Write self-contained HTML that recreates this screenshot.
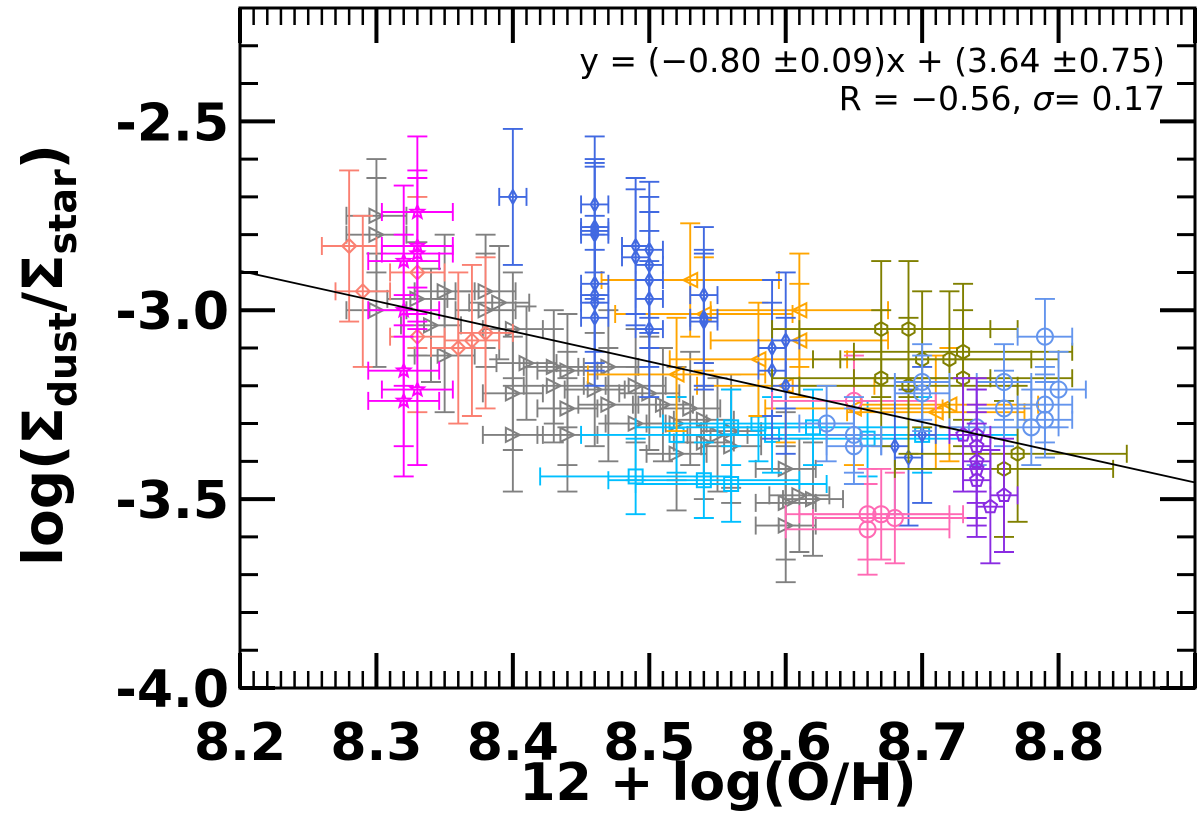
<!DOCTYPE html>
<html><head><meta charset="utf-8"><style>
body{margin:0;background:#fff;}
svg text{font-family:"DejaVu Sans","Liberation Sans",sans-serif;}
</style></head><body>
<svg id="chart" width="1200" height="818" xmlns="http://www.w3.org/2000/svg">
<g id="series"></g>
<g id="axes"></g>
</svg>
<script>
// x, y, xerr, yerr per series (data units)
const salmonX=[8.28,8.29,8.33,8.33,8.36,8.37,8.38];
const salmonY=[-2.83,-2.95,-2.90,-3.07,-3.10,-3.08,-3.06];
const magentaX=[8.32,8.33,8.33,8.33,8.32,8.32,8.33,8.32];
const magentaY=[-2.87,-2.74,-2.83,-2.85,-3.00,-3.16,-3.21,-3.24];
const grayX=[8.30,8.30,8.30,8.33,8.35,8.35,8.34,8.38,8.38,8.39,8.40,8.41,8.43,8.43,8.40,8.40,8.44,8.44,8.44,8.46,8.47,8.47,8.49,8.50,8.49,8.51,8.52,8.53,8.54,8.52,8.54,8.55,8.56,8.56,8.60,8.61,8.60,8.60,8.62];
const grayY=[-2.75,-2.80,-3.00,-2.97,-2.95,-3.12,-3.04,-2.95,-3.00,-2.98,-3.05,-3.14,-3.15,-3.20,-3.22,-3.33,-3.16,-3.26,-3.33,-3.21,-3.25,-3.15,-3.20,-3.22,-3.30,-3.25,-3.30,-3.26,-3.35,-3.38,-3.29,-3.33,-3.32,-3.36,-3.42,-3.49,-3.51,-3.57,-3.50];
const blueX=[8.40,8.46,8.46,8.46,8.46,8.46,8.46,8.46,8.46,8.49,8.49,8.50,8.50,8.50,8.50,8.50,8.54,8.54,8.54,8.59,8.59,8.60,8.60,8.68,8.69,8.70];
const blueY=[-2.70,-2.72,-2.78,-2.79,-2.80,-2.93,-2.96,-2.98,-3.02,-2.83,-2.86,-2.84,-2.88,-2.92,-2.97,-3.05,-2.96,-3.02,-3.03,-3.10,-3.16,-3.08,-3.20,-3.36,-3.39,-3.33];
const orangeX=[8.53,8.54,8.52,8.58,8.61,8.61,8.60,8.72,8.71,8.65];
const orangeY=[-2.92,-3.01,-3.17,-3.13,-3.00,-3.08,-3.20,-3.25,-3.27,-3.26];
const cyanX=[8.52,8.56,8.58,8.54,8.49,8.56,8.59,8.62,8.66,8.70];
const cyanY=[-3.33,-3.31,-3.30,-3.45,-3.44,-3.46,-3.33,-3.31,-3.34,-3.33];
const pinkX=[8.66,8.67,8.66,8.65,8.68];
const pinkY=[-3.54,-3.54,-3.58,-3.24,-3.55];
const oliveX=[8.67,8.69,8.70,8.72,8.73,8.67,8.69,8.73,8.77,8.76];
const oliveY=[-3.05,-3.05,-3.13,-3.13,-3.11,-3.18,-3.20,-3.18,-3.38,-3.42];
const cornX=[8.79,8.80,8.79,8.78,8.79,8.76,8.76,8.63,8.65,8.65,8.70,8.70,8.74];
const cornY=[-3.07,-3.21,-3.25,-3.31,-3.29,-3.19,-3.26,-3.30,-3.33,-3.36,-3.19,-3.22,-3.31];
const violetX=[8.74,8.74,8.74,8.74,8.74,8.73,8.75,8.76];
const violetY=[-3.33,-3.36,-3.40,-3.42,-3.45,-3.33,-3.52,-3.49];
const xTicks=[8.2,8.3,8.4,8.5,8.6,8.7,8.8];
const yTicks=[-2.5,-3.0,-3.5,-4.0];
const fitSlope=-0.80, fitIntercept=3.664;

const X0=240,X1=1195,Y0=8,Y1=688,xmin=8.2,xmax=8.9,ymin=-4.0,ymax=-2.2;
const sx=v=>X0+(v-xmin)/(xmax-xmin)*(X1-X0);
const sy=v=>Y1-(v-ymin)/(ymax-ymin)*(Y1-Y0);
const NS="http://www.w3.org/2000/svg";
function mk(tag,attrs,parent){const e=document.createElementNS(NS,tag);for(const k in attrs)e.setAttribute(k,attrs[k]);parent.appendChild(e);return e;}
const sg=document.getElementById('series');

function marker(g,type,cx,cy,col){
  const r=7;let e;
  if(type==='diamond'){e=mk('polygon',{points:`${cx},${cy-r} ${cx+r},${cy} ${cx},${cy+r} ${cx-r},${cy}`},g);}
  else if(type==='thin'){e=mk('polygon',{points:`${cx},${cy-r} ${cx+4},${cy} ${cx},${cy+r} ${cx-4},${cy}`},g);}
  else if(type==='star'){let p=[];for(let i=0;i<10;i++){const a=-Math.PI/2+i*Math.PI/5,rr=i%2?3:7;p.push((cx+rr*Math.cos(a)).toFixed(1)+','+(cy+rr*Math.sin(a)).toFixed(1));}e=mk('polygon',{points:p.join(' ')},g);}
  else if(type==='tri-right'){e=mk('polygon',{points:`${cx+r},${cy} ${cx-r},${cy-r} ${cx-r},${cy+r}`},g);}
  else if(type==='tri-left'){e=mk('polygon',{points:`${cx-r},${cy} ${cx+r},${cy-r} ${cx+r},${cy+r}`},g);}
  else if(type==='square'){e=mk('rect',{x:cx-r,y:cy-r,width:2*r,height:2*r},g);}
  else if(type==='circle'){e=mk('circle',{cx:cx,cy:cy,r:r+1},g);}
  else if(type==='hexagon'||type==='pentagon'){const n=type==='hexagon'?6:5;let p=[];for(let i=0;i<n;i++){const a=-Math.PI/2+i*2*Math.PI/n;p.push((cx+r*Math.cos(a)).toFixed(1)+','+(cy+r*Math.sin(a)).toFixed(1));}e=mk('polygon',{points:p.join(' ')},g);}
  e.setAttribute('fill','none');e.setAttribute('stroke',col);e.setAttribute('stroke-width','2');
  
  
}
function series(name,xs,ys,xe,ye,col,type){
  const g=mk('g',{},sg);
  
  
  xs.forEach((x,i)=>{
    const y=ys[i],cx=sx(x),cy=sy(y);
    const pg=mk('g',{stroke:col,'stroke-width':1.9,fill:'none'},g);
    
    
    const xl=sx(x-xe),xr=sx(x+xe),yt=sy(y+ye),yb=sy(y-ye);
    mk('line',{x1:xl,y1:cy,x2:xr,y2:cy},pg);
    mk('line',{x1:cx,y1:yt,x2:cx,y2:yb},pg);
    mk('line',{x1:xl,y1:cy-9,x2:xl,y2:cy+9},pg);
    mk('line',{x1:xr,y1:cy-9,x2:xr,y2:cy+9},pg);
    mk('line',{x1:cx-10,y1:yt,x2:cx+10,y2:yt},pg);
    mk('line',{x1:cx-10,y1:yb,x2:cx+10,y2:yb},pg);
    marker(pg,type,cx,cy,col);
  });
}
series('gray-series',grayX,grayY,0.022,0.15,'#808080','tri-right');
series('salmon-series',salmonX,salmonY,0.02,0.2,'#fa8072','diamond');
series('magenta-series',magentaX,magentaY,0.026,0.2,'#ff00ff','star');
series('cyan-series',cyanX,cyanY,0.07,0.1,'#00bfff','square');
series('orange-series',orangeX,orangeY,0.065,0.15,'#ffa500','tri-left');
series('blue-series',blueX,blueY,0.01,0.18,'#4169e1','thin');
series('pink-series',pinkX,pinkY,0.06,0.12,'#ff69b4','circle');
series('olive-series',oliveX,oliveY,0.08,0.18,'#808000','hexagon');
series('cornflower-series',cornX,cornY,0.02,0.1,'#6495ed','circle');
series('violet-series',violetX,violetY,0.01,0.15,'#8a2be2','pentagon');

const ax=document.getElementById('axes');
const fit=mk('line',{x1:X0,y1:sy(fitSlope*xmin+fitIntercept),x2:X1,y2:sy(fitSlope*xmax+fitIntercept),stroke:'#000','stroke-width':1.8},ax);


for(let i=0;i<=70;i++){const v=xmin+i*0.01,px=sx(v),maj=(i%10===0);const L=maj?35:17,w=maj?4:2.5;
 mk('line',{x1:px,y1:Y1,x2:px,y2:Y1-L,stroke:'#000','stroke-width':w},ax);
 mk('line',{x1:px,y1:Y0,x2:px,y2:Y0+L,stroke:'#000','stroke-width':w},ax);}
for(let i=0;i<=18;i++){const v=ymin+i*0.1,py=sy(v),maj=(i%5===0);const L=maj?35:18,w=maj?4:3;
 mk('line',{x1:X0,y1:py,x2:X0+L,y2:py,stroke:'#000','stroke-width':w},ax);
 mk('line',{x1:X1,y1:py,x2:X1-L,y2:py,stroke:'#000','stroke-width':w},ax);}
const fr=mk('rect',{x:X0,y:Y0,width:X1-X0,height:Y1-Y0,fill:'none',stroke:'#000','stroke-width':3},ax);


xTicks.forEach(v=>{const t=mk('text',{x:sx(v),y:760,'text-anchor':'middle','font-size':52,'font-weight':'bold'},ax);t.textContent=v.toFixed(1);
 
 });
yTicks.forEach(v=>{const t=mk('text',{x:229,y:sy(v)+19,'text-anchor':'end','font-size':52,'font-weight':'bold'},ax);t.textContent=v.toFixed(1);
 
 });
</script>
<svg style="position:absolute;left:0;top:0" width="1200" height="818" xmlns="http://www.w3.org/2000/svg">
<text x="718" y="800" text-anchor="middle" font-size="52" font-weight="bold" font-family="DejaVu Sans, Liberation Sans, sans-serif">12 + log(O/H)</text>
<text transform="translate(62,355) rotate(-90)" text-anchor="middle" font-size="55" font-weight="bold" font-family="DejaVu Sans, Liberation Sans, sans-serif">log(Σ<tspan font-size="38" dy="14">dust</tspan><tspan dy="-14">/Σ</tspan><tspan font-size="38" dy="14">star</tspan><tspan dy="-14">)</tspan></text>
<text x="1165" y="72" text-anchor="end" font-size="33" font-family="DejaVu Sans, Liberation Sans, sans-serif">y = (−0.80 ±0.09)x + (3.64 ±0.75)</text>
<text x="1165" y="110" text-anchor="end" font-size="33" font-family="DejaVu Sans, Liberation Sans, sans-serif">R = −0.56, <tspan font-style="italic">σ</tspan>= 0.17</text>
</svg>
</body></html>
